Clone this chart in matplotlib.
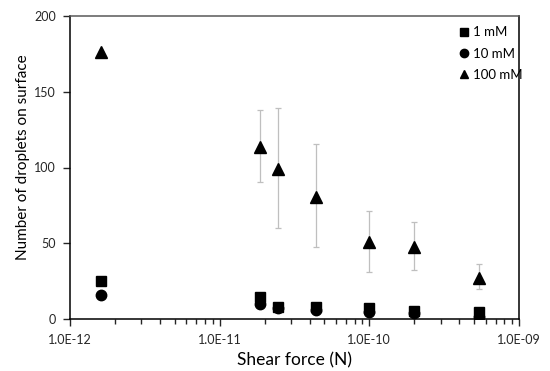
import numpy as np
import matplotlib
matplotlib.use("Agg")
import matplotlib.pyplot as plt
from matplotlib.ticker import FuncFormatter, LogLocator, NullFormatter

plt.rcParams['font.family'] = ['Lato', 'DejaVu Sans']

# shear force (N) for each measurement
force = [1.6e-12, 1.86e-11, 2.46e-11, 4.4e-11, 9.9e-11, 2.0e-10, 5.4e-10]

# droplets counted on the surface
c1 = [25, 14.7, 8.1, 7.7, 7.0, 5.5, 4.8]         # 1 mM
c10 = [15.8, 9.9, 7.0, 5.9, 4.4, 3.7, 1.5]       # 10 mM
c100 = [176.5, 113.7, 99, 80.7, 51, 47.7, 27.3]  # 100 mM
c100_lo = [176.5, 90.2, 60.3, 47.3, 31, 32.3, 19.6]
c100_hi = [176.5, 138, 139, 115.3, 71.3, 64.2, 36.1]

err = [np.array(c100) - np.array(c100_lo), np.array(c100_hi) - np.array(c100)]


def sci(v, p):
    # Excel style: 1.0E-12
    mant, ex = ('%.1E' % v).split('E')
    return mant + 'E' + ex[0] + ex[1:].zfill(2)


fig = plt.figure(figsize=(5.5, 3.71), dpi=100)
ax = fig.add_axes([70 / 550, 1 - 319 / 371, 449 / 550, 303 / 371])

ax.errorbar(force, c100, yerr=err, fmt='none', ecolor='#bfbfbf',
            elinewidth=0.9, capsize=2, capthick=0.9, zorder=1)
ax.plot(force, c1, 's', color='black', ms=7, label='1 mM', zorder=3)
ax.plot(force, c10, 'o', color='black', ms=7.5, label='10 mM', zorder=3)
ax.plot(force, c100, '^', color='black', ms=8, label='100 mM', zorder=3)

ax.set_xscale('log')
ax.set_xlim(1e-12, 1e-9)
ax.set_ylim(0, 200)
ax.set_yticks([0, 50, 100, 150, 200])

ax.xaxis.set_major_locator(LogLocator(base=10, numticks=10))
ax.xaxis.set_minor_locator(LogLocator(base=10, subs=np.arange(2, 10), numticks=10))
ax.xaxis.set_major_formatter(FuncFormatter(sci))
ax.xaxis.set_minor_formatter(NullFormatter())

ax.tick_params(axis='both', which='both', direction='out', labelsize=9,
               colors='#262626', width=1)
ax.tick_params(axis='x', which='major', length=5, pad=6)
ax.tick_params(axis='x', which='minor', length=3.5)
ax.tick_params(axis='y', length=5, pad=5)

for side in ['left', 'bottom', 'right']:
    ax.spines[side].set_color('black')
    ax.spines[side].set_linewidth(1.1)
ax.spines['top'].set_color('#595959')
ax.spines['top'].set_linewidth(1.1)

ax.set_xlabel('Shear force (N)', fontsize=12.5, labelpad=4)
ax.set_ylabel('Number of droplets on surface', fontsize=11)
ax.yaxis.set_label_coords(-0.088, 0.535)

ax.legend(loc='upper right', frameon=False, fontsize=9.5, handlelength=0.8,
          handletextpad=0.3, labelspacing=0.7, markerscale=0.8,
          bbox_to_anchor=(1.035, 1.005))

fig.savefig('out.png', dpi=100)
